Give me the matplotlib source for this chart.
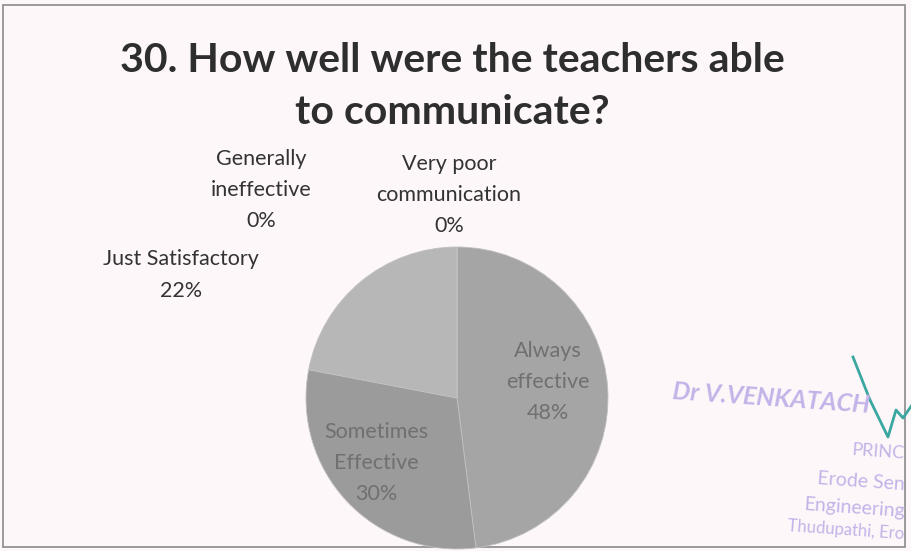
import matplotlib.pyplot as plt
from matplotlib.patches import Rectangle

plt.rcParams["font.family"] = ["Lato", "DejaVu Sans"]

# data
categories = ["Always\neffective", "Sometimes\nEffective", "Just Satisfactory",
              "Generally\nineffective", "Very poor\ncommunication"]
shares = [48, 30, 22, 0, 0]
colors = ["#a5a5a5", "#9b9b9b", "#b7b7b7", "#b0b0b0", "#a8a8a8"]

W, H = 912, 551
fig = plt.figure(figsize=(W / 100, H / 100), dpi=100)
fig.patch.set_facecolor("#fdf7f9")
ax = fig.add_axes([0, 0, 1, 1])

# chart frame
ax.add_patch(Rectangle((3, H - 547), 902, 542, fill=False, ec="#8a8a8a", lw=1.2))

# pie, starting at 12 o'clock, clockwise like Excel
cx, cy, r = 457, H - 398, 151
wedges, _ = ax.pie(shares, colors=colors, startangle=90, counterclock=False,
                   center=(cx, cy), radius=r, frame=True,
                   wedgeprops=dict(lw=0.6, ec="#c0c0c0"))
ax.set_xlim(0, W)
ax.set_ylim(0, H)
ax.set_aspect("equal")
ax.axis("off")

# data labels (pixel positions of the label centres)
label_pos = [(548, 382), (376, 463), (181, 275), (261, 190), (449, 195)]
label_col = ["#707070", "#707070", "#333333", "#333333", "#333333"]
for cat, val, (lx, ly), col in zip(categories, shares, label_pos, label_col):
    ax.text(lx, H - ly, f"{cat}\n{val}%", ha="center", va="center",
            fontsize=15.5, color=col, linespacing=1.7)

ax.text(452, H - 86, "30. How well were the teachers able\nto communicate?",
        ha="center", va="center", fontsize=29.5, fontweight="bold",
        color="#2e2e2e", linespacing=1.5)

# scanned stamp
stamp = "#c3b3e8"
ax.text(672, H - 398, "Dr V.VENKATACH", fontsize=18, fontweight="bold",
        color=stamp, rotation=-4, ha="left", va="center", style="italic")
ax.text(905, H - 452, "PRINC", fontsize=13, color=stamp, rotation=-4, ha="right", va="center")
ax.text(905, H - 482, "Erode Sen", fontsize=14, color=stamp, rotation=-4, ha="right", va="center")
ax.text(905, H - 508, "Engineering", fontsize=14, color=stamp, rotation=-4, ha="right", va="center")
ax.text(905, H - 530, "Thudupathi, Ero", fontsize=12, color=stamp, rotation=-4, ha="right", va="center")
ax.plot([853, 870, 888, 896, 903, 912], [H - 357, H - 400, H - 437, H - 410, H - 418, H - 405],
        color="#3aa7a0", lw=2)

fig.savefig("out.png", dpi=100, facecolor=fig.get_facecolor())
